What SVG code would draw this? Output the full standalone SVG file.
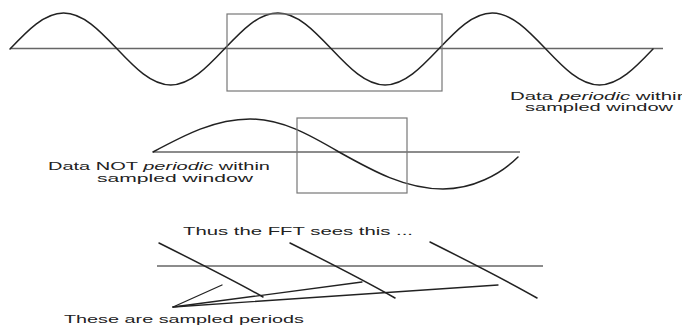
<svg xmlns="http://www.w3.org/2000/svg" width="682" height="327" viewBox="0 0 682 327">
<style>
.axis{stroke:#666;stroke-width:1.6;fill:none}
.wave{stroke:#222;stroke-width:1.5;fill:none;stroke-linecap:round}
.box{stroke:#777;stroke-width:1.2;fill:none}
.ptr{stroke:#222;stroke-width:1.3;fill:none;stroke-linecap:round}
text{font-family:"Liberation Sans",Arial,sans-serif;font-size:10.5px;fill:#222}
</style>
<rect width="682" height="327" fill="#fff"/>
<g id="top-signal">
<line class="axis" x1="10" y1="48.5" x2="663" y2="48.5"/>
<path class="wave" d="M10,49 C27.47,30.56 44.19,13 63.58,13 S99.7,30.56 117.17,49 S151.36,85 170.75,85 S206.86,67.44 224.33,49 S258.52,13 277.91,13 S314.03,30.56 331.5,49 S365.69,85 385.08,85 S421.19,67.44 438.66,49 S472.85,13 492.24,13 S528.36,30.56 545.83,49 S580.02,85 599.41,85 S635.53,67.44 653,49"/>
<rect class="box" x="227" y="14" width="215" height="77"/>
</g>
<g id="top-label">
<text x="510" y="100" textLength="178" lengthAdjust="spacingAndGlyphs">Data <tspan font-style="italic">periodic</tspan> within</text>
<text x="525" y="111" textLength="148" lengthAdjust="spacingAndGlyphs">sampled window</text>
</g>
<g id="middle-signal">
<line class="axis" x1="153" y1="152" x2="520" y2="152"/>
<path class="wave" d="M153,152 C184.6,135.1 214.9,119 250,119 C282.2,119 310,135.1 339,152 C372.9,171 405.4,189 443,189 C472,189 500,175 518,157"/>
<rect class="box" x="297" y="118" width="110" height="75"/>
</g>
<g id="middle-label">
<text x="48" y="169.5" textLength="222" lengthAdjust="spacingAndGlyphs">Data NOT <tspan font-style="italic">periodic</tspan> within</text>
<text x="97" y="181.5" textLength="156" lengthAdjust="spacingAndGlyphs">sampled window</text>
</g>
<g id="fft-view">
<text x="183" y="235" textLength="230" lengthAdjust="spacingAndGlyphs">Thus the FFT sees this ...</text>
<line class="axis" x1="157" y1="266" x2="543" y2="266"/>
<path class="wave" d="M159,243 C185,256 235,281 263,297"/>
<path class="wave" d="M290,243 C316,256 367,282 395,298"/>
<path class="wave" d="M430,242 C456,255 509,282 537,298"/>
</g>
<g id="connectors">
<line class="ptr" x1="173" y1="307" x2="222" y2="285"/>
<line class="ptr" x1="173" y1="307" x2="362" y2="282"/>
<line class="ptr" x1="173" y1="307" x2="498" y2="285"/>
</g>
<g id="bottom-label">
<text x="64" y="323" textLength="240" lengthAdjust="spacingAndGlyphs">These are sampled periods</text>
</g>
</svg>
